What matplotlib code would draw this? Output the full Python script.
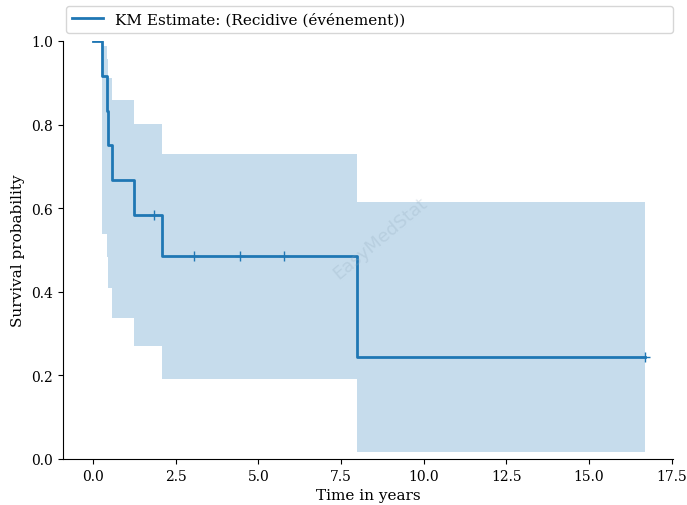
import numpy as np
import matplotlib
matplotlib.use("Agg")
import matplotlib.pyplot as plt

# Courbe de Kaplan-Meier
timeline = [0.0, 0.28, 0.43, 0.47, 0.59, 1.23, 1.84, 2.08, 3.05, 4.44, 5.79, 8.0, 16.7]
survival = [1.0, 0.917, 0.833, 0.750, 0.667, 0.583, 0.583, 0.486, 0.486, 0.486, 0.486, 0.243, 0.243]
ci_lower = [1.0, 0.539, 0.482, 0.408, 0.337, 0.270, 0.270, 0.192, 0.192, 0.192, 0.192, 0.016, 0.016]
ci_upper = [1.0, 0.988, 0.956, 0.912, 0.860, 0.801, 0.801, 0.730, 0.730, 0.730, 0.730, 0.615, 0.615]

# Observations censurées
censor_times = [1.84, 3.05, 4.44, 5.79, 16.7]
censor_surv = [0.583, 0.486, 0.486, 0.486, 0.243]

label = "KM Estimate: (Recidive (événement))"
color = "#1f77b4"

plt.rcParams['font.family'] = ['DejaVu Serif']

fig = plt.figure(figsize=(6.87, 5.06), dpi=100)
ax = fig.add_axes([0.091, 0.091, 0.889, 0.826])

ax.fill_between(timeline, ci_lower, ci_upper, step='post', color=color, alpha=0.25, linewidth=0)
ax.step(timeline, survival, where='post', color=color, linewidth=2, label=label)
ax.plot(censor_times, censor_surv, linestyle='none', marker='+', color=color, ms=7, mew=1)

# filigrane
ax.text(8.7, 0.53, "EasyMedStat", rotation=40, fontsize=13, color='#8fa8bb', alpha=0.25,
        ha='center', va='center', family='DejaVu Sans')

ax.set_xlim(-0.92, 17.55)
ax.set_ylim(0, 1.0)
ax.set_xticks(np.arange(0, 17.6, 2.5))
ax.set_yticks(np.arange(0, 1.01, 0.2))
ax.tick_params(labelsize=10)
ax.spines['top'].set_visible(False)
ax.spines['right'].set_visible(False)
ax.set_xlabel("Time in years", fontsize=11)
ax.set_ylabel("Survival probability", fontsize=11)

ax.legend(loc='lower left', bbox_to_anchor=(0.006, 1.02, 0.994, 0.07), mode='expand',
          borderaxespad=0, fontsize=11, fancybox=True)

fig.savefig("out.png", dpi=100)
